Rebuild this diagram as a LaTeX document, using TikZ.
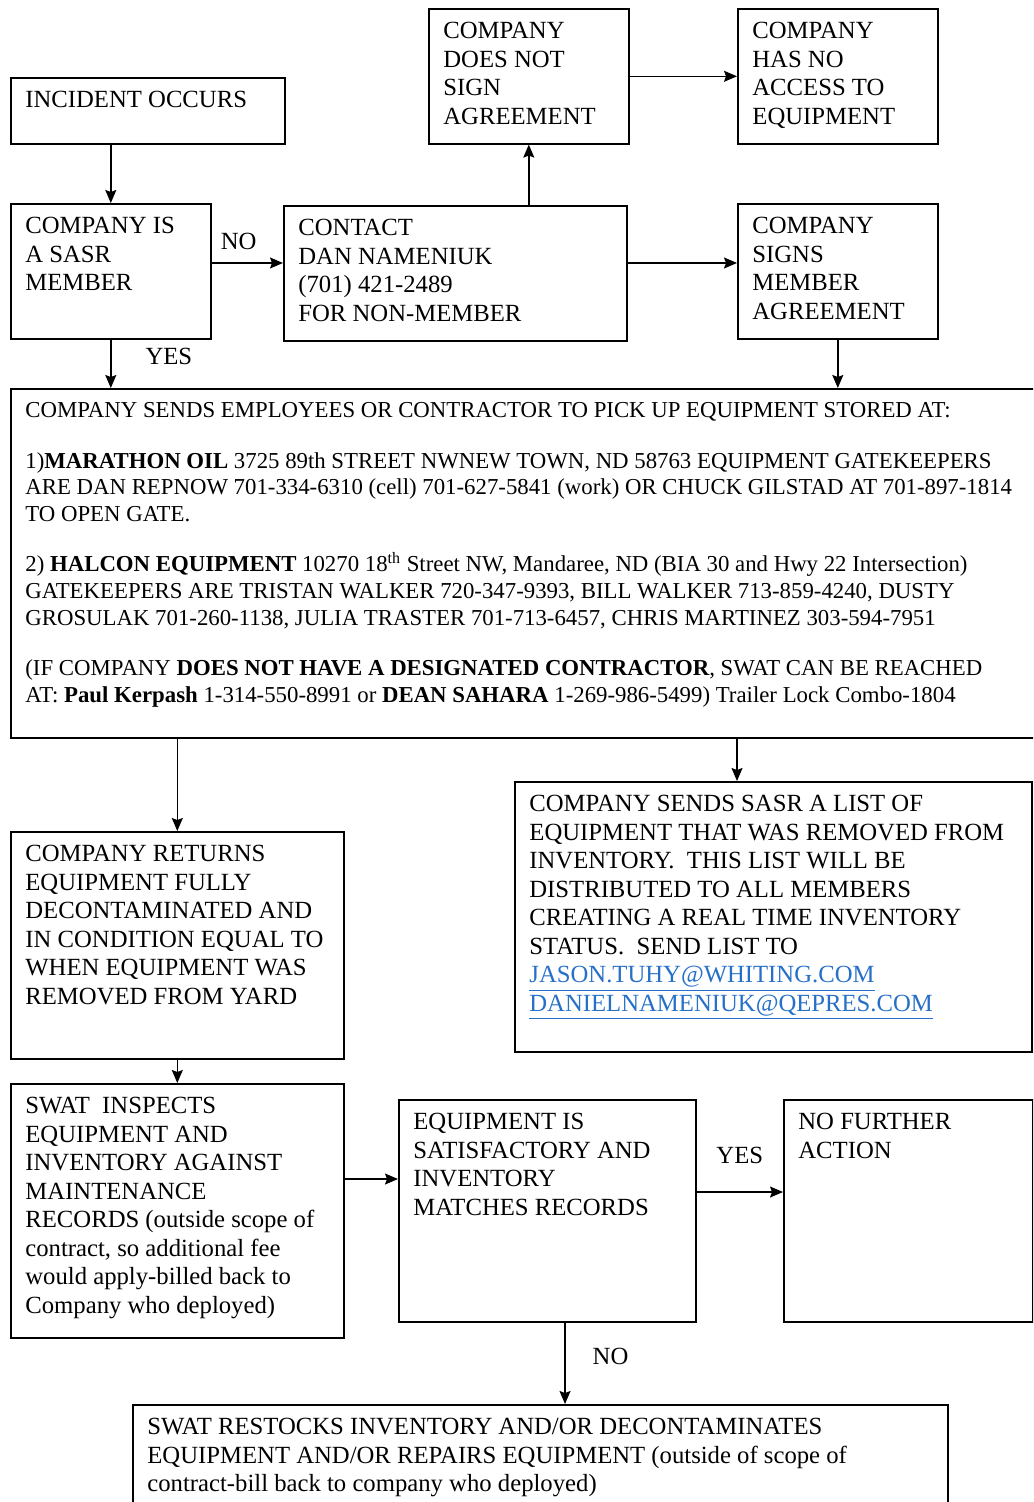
\documentclass[tikz,border=0pt]{standalone}
\usepackage{fontspec}
\setmainfont{Liberation Serif}
\usetikzlibrary{arrows.meta}
\definecolor{linkblue}{RGB}{38,112,200}
\newcommand{\FlowBox}[7][]{% name, left, top, width, height, text
\node[box, minimum width=#5*0.5pt, minimum height=#6*0.5pt] (#2) at (#3,#4) {};
\node[boxtext, #1] (#2T) at ([xshift=7.5pt, yshift=-7pt]#2.north west) {#7};
}
\newcommand{\Mail}[1]{{\color{linkblue}\underline{#1}}}

\begin{document}
\begin{tikzpicture}[x=0.5pt, y=-0.5pt, >={Stealth[length=6.5pt, width=5.5pt, inset=1pt]},
box/.style={draw, line width=.8pt, anchor=north west, inner sep=0pt},
boxtext/.style={anchor=north west, inner sep=0pt, align=left, font=\fontsize{12.35}{14.25}\selectfont},
storedfont/.style={font=\fontsize{11.4}{13.3}\selectfont},
flow/.style={->, line width=.7pt},
answer/.style={inner sep=0pt, font=\fontsize{12.35}{14.25}\selectfont},
]
\useasboundingbox (0,0) rectangle (1033,1502);
\clip (0,0) rectangle (1033,1502);

%%%%%%%%%%%%%%%%%%%%%%%% TOP ROWS %%%%%%%%%%%%%%%%%%%%%%%%%%%
\FlowBox{incident}{10}{77}{274}{66}{INCIDENT OCCURS}
\FlowBox{member}{10}{203}{200}{135}{COMPANY IS\\A SASR\\MEMBER}
\FlowBox{contact}{283}{205}{343}{135}{CONTACT\\DAN NAMENIUK\\(701) 421-2489\\FOR NON-MEMBER}
\FlowBox{nosign}{428}{8}{200}{135}{COMPANY\\DOES NOT\\SIGN\\AGREEMENT}
\FlowBox{noaccess}{737}{8}{200}{135}{COMPANY\\HAS NO\\ACCESS TO\\EQUIPMENT}
\FlowBox{signs}{737}{203}{200}{135}{COMPANY\\SIGNS\\MEMBER\\AGREEMENT}

%%%%%%%%%%%%%%%%%%%%%%%% PICK UP %%%%%%%%%%%%%%%%%%%%%%%%%%%
\FlowBox[storedfont]{stored}{10}{388}{1040}{349}{%
COMPANY SENDS EMPLOYEES OR CONTRACTOR TO PICK UP EQUIPMENT STORED AT:\\[12pt]
1)\textbf{MARATHON OIL} 3725 89th STREET NWNEW TOWN, ND 58763 EQUIPMENT GATEKEEPERS\\
ARE DAN REPNOW 701-334-6310 (cell) 701-627-5841 (work) OR CHUCK GILSTAD AT 701-897-1814\\
TO OPEN GATE.\\[12pt]
2) \textbf{HALCON EQUIPMENT} 10270 18\textsuperscript{th} Street NW, Mandaree, ND (BIA 30 and Hwy 22 Intersection)\\
GATEKEEPERS ARE TRISTAN WALKER 720-347-9393, BILL WALKER 713-859-4240, DUSTY\\
GROSULAK 701-260-1138, JULIA TRASTER 701-713-6457, CHRIS MARTINEZ 303-594-7951\\[12pt]
(IF COMPANY \textbf{DOES NOT HAVE A DESIGNATED CONTRACTOR}, SWAT CAN BE REACHED\\
AT: \textbf{Paul Kerpash} 1-314-550-8991 or \textbf{DEAN SAHARA} 1-269-986-5499) Trailer Lock Combo-1804}

%%%%%%%%%%%%%%%%%%%%%%%% RETURN AND CHECK %%%%%%%%%%%%%%%%%%%%%%%%%%%
\FlowBox{returns}{10}{831}{333}{227}{COMPANY RETURNS\\EQUIPMENT FULLY\\DECONTAMINATED AND\\IN CONDITION EQUAL TO\\WHEN EQUIPMENT WAS\\REMOVED FROM YARD}
\FlowBox{sendlist}{514}{781}{517}{270}{COMPANY SENDS SASR A LIST OF\\EQUIPMENT THAT WAS REMOVED FROM\\INVENTORY.\ \ THIS LIST WILL BE\\DISTRIBUTED TO ALL MEMBERS\\CREATING A REAL TIME INVENTORY\\STATUS.\ \ SEND LIST TO\\\Mail{JASON.TUHY@WHITING.COM}\\\Mail{DANIELNAMENIUK@QEPRES.COM}}
\FlowBox{inspects}{10}{1083}{333}{254}{SWAT\ \ INSPECTS\\EQUIPMENT AND\\INVENTORY AGAINST\\MAINTENANCE\\RECORDS (outside scope of\\contract, so additional fee\\would apply-billed back to\\Company who deployed)}
\FlowBox{satisf}{398}{1099}{297}{222}{EQUIPMENT IS\\SATISFACTORY AND\\INVENTORY\\MATCHES RECORDS}
\FlowBox{nofurther}{783}{1099}{249}{222}{NO FURTHER\\ACTION}
\FlowBox{restocks}{132}{1404}{815}{120}{SWAT RESTOCKS INVENTORY AND/OR DECONTAMINATES\\EQUIPMENT AND/OR REPAIRS EQUIPMENT (outside of scope of\\contract-bill back to company who deployed)}

%%%%%%%%%%%%%%%%%%%%%%%% CONNECTORS %%%%%%%%%%%%%%%%%%%%%%%%%%%
\coordinate (rowAsk) at (0,263);
\coordinate (colList) at (737,0);
\coordinate (rowCheck) at (0,1179);
\coordinate (rowYes) at (0,1192);
\coordinate (colNo) at (565,0);

\draw[flow] (incident.south -| member.north) -- (member.north);
\draw[flow] (member.east |- rowAsk) -- (contact.west |- rowAsk) node[answer, above=6.5pt, pos=.38]{NO};
\draw[flow] (contact.east |- rowAsk) -- (signs.west |- rowAsk);
\draw[flow] (contact.north -| nosign.south) -- (nosign.south);
\draw[flow] (nosign.east) -- (noaccess.west |- nosign.east);
\draw[flow] (member.south) -- (member.south |- stored.north) node[answer, right=17pt, pos=.34]{YES};
\draw[flow] (signs.south) -- (signs.south |- stored.north);
\draw[flow] (returns.north |- stored.south) -- (returns.north);
\draw[flow] (stored.south -| colList) -- (sendlist.north -| colList);
\draw[flow] (returns.south) -- (inspects.north);
\draw[flow] (inspects.east |- rowCheck) -- (satisf.west |- rowCheck);
\draw[flow] (satisf.east |- rowYes) -- (nofurther.west |- rowYes) node[answer, above=14pt, midway]{YES};
\draw[flow] (satisf.south -| colNo) -- (restocks.north -| colNo) node[answer, right=13.5pt, pos=.41]{NO};
\end{tikzpicture}
\end{document}
